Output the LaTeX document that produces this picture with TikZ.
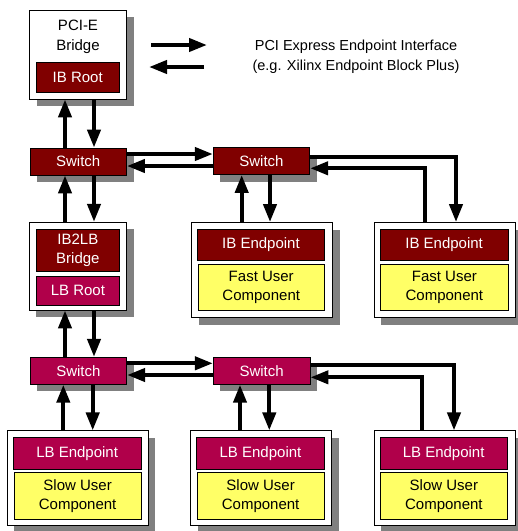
\documentclass[tikz,border=0pt]{standalone}
\usepackage{fontspec}
\setmainfont{Liberation Sans}
\usetikzlibrary{arrows.meta,shadows}
\definecolor{ibred}{HTML}{800000}
\definecolor{lbred}{HTML}{B0004A}
\definecolor{ucyellow}{HTML}{FFFF66}
\definecolor{shadowgray}{HTML}{808080}
\begin{document}
\begin{tikzpicture}[x=1pt,y=-1pt,
  shadowed/.style={general shadow={fill=shadowgray, shadow xshift=7pt, shadow yshift=-7pt}},
  rect/.style={draw=black, line width=0.8pt, inner sep=0pt, align=center,
    font=\fontsize{15}{19}\selectfont},
  ibbox/.style={rect, fill=ibred, text=white},
  lbbox/.style={rect, fill=lbred, text=white},
  userbox/.style={rect, fill=ucyellow, text=black},
  outerbox/.style={rect, fill=white, shadowed},
  swib/.style={ibbox, shadowed, minimum width=96.5pt, minimum height=27pt},
  swlb/.style={lbbox, shadowed, minimum width=96.7pt, minimum height=27pt},
  epouter/.style={outerbox, minimum width=141pt, minimum height=95pt},
  arr/.style={line width=4pt, line join=miter, -{Triangle[length=18pt,width=13pt]}},
  legendtext/.style={align=center, font=\fontsize{14.5}{20}\selectfont}
]
\useasboundingbox (0,0) rectangle (518,531);

% helper coordinates
\coordinate (xa) at (65,0);
\coordinate (xb) at (94,0);
\coordinate (xc) at (241.7,0);
\coordinate (xd) at (270,0);
\coordinate (xe) at (63.3,0);
\coordinate (xf) at (92.7,0);
\coordinate (xg) at (240,0);
\coordinate (xh) at (269.3,0);
\coordinate (xr1) at (456,0);
\coordinate (xl1) at (425,0);
\coordinate (xr2) at (454,0);
\coordinate (xl2) at (421.7,0);
\coordinate (ya) at (0,154);
\coordinate (yb) at (0,166);
\coordinate (yc) at (0,157);
\coordinate (yd) at (0,168.3);
\coordinate (ye) at (0,363.3);
\coordinate (yf) at (0,375);
\coordinate (yg) at (0,365);
\coordinate (yh) at (0,377.3);

% PCI-E bridge
\node[outerbox, minimum width=97pt, minimum height=89pt] (pcie) at (78,54.5) {};
\node[align=center, font=\fontsize{15}{20}\selectfont] (pcietext) at (78,37) {PCI-E\\Bridge};
\node[ibbox, minimum width=83.5pt, minimum height=30pt] (ibroot) at (77.75,77) {IB Root};

% legend
\coordinate (lg1a) at (151,45);
\coordinate (lg1b) at (207,45);
\coordinate (lg2a) at (204,67);
\coordinate (lg2b) at (149,67);
\draw[arr] (lg1a) -- (lg1b);
\draw[arr] (lg2a) -- (lg2b);
\node[legendtext] (legend) at (356,56.5) {PCI Express Endpoint Interface\\(e.g. Xilinx Endpoint Block Plus)};

% IB switches
\node[swib] (sw1) at (78.25,161.5) {Switch};
\node[swib] (sw2) at (261.5,161) {Switch};

% IB endpoints
\node[epouter] (ibep1) at (262,270) {};
\node[ibbox, minimum width=127pt, minimum height=31pt] (ib1) at (261,244.5) {IB Endpoint};
\node[userbox, minimum width=126.5pt, minimum height=46pt] (fast1) at (261.25,287) {Fast User\\Component};
\node[epouter] (ibep2) at (444.65,270) {};
\node[ibbox, minimum width=128.3pt, minimum height=31pt] (ib2) at (444.15,244.5) {IB Endpoint};
\node[userbox, minimum width=127.8pt, minimum height=46pt] (fast2) at (444.4,287) {Fast User\\Component};

% IB2LB bridge
\node[outerbox, minimum width=97.4pt, minimum height=87.7pt] (ib2lb) at (78,266.15) {};
\node[ibbox, minimum width=82.3pt, minimum height=42.4pt] (bridge) at (77.85,250.5) {IB2LB\\Bridge};
\node[lbbox, minimum width=82.3pt, minimum height=28.3pt] (lbroot) at (77.85,290.85) {LB Root};

% LB switches
\node[swlb] (sw3) at (78.35,370.8) {Switch};
\node[swlb] (sw4) at (261.65,370.8) {Switch};

% LB endpoints
\node[epouter] (lbep1) at (77.8,478.35) {};
\node[lbbox, minimum width=127.7pt, minimum height=31.6pt] (lb1) at (77.15,453.5) {LB Endpoint};
\node[userbox, minimum width=126.7pt, minimum height=47pt] (slow1) at (77.65,495.8) {Slow User\\Component};
\node[epouter] (lbep2) at (261.2,478.35) {};
\node[lbbox, minimum width=127.7pt, minimum height=31.6pt] (lb2) at (260.5,453.5) {LB Endpoint};
\node[userbox, minimum width=126.7pt, minimum height=47pt] (slow2) at (260.65,495.8) {Slow User\\Component};
\node[epouter] (lbep3) at (444.5,478.35) {};
\node[lbbox, minimum width=127.3pt, minimum height=31.6pt] (lb3) at (443.65,453.5) {LB Endpoint};
\node[userbox, minimum width=126.8pt, minimum height=47pt] (slow3) at (443.9,495.8) {Slow User\\Component};

% connectors: PCI-E <-> switch 1
\draw[arr] (sw1.north -| xa) -- (pcie.south -| xa);
\draw[arr] (pcie.south -| xb) -- (sw1.north -| xb);
% switch 1 <-> IB2LB
\draw[arr] (ib2lb.north -| xa) -- (sw1.south -| xa);
\draw[arr] (sw1.south -| xb) -- (ib2lb.north -| xb);
% switch 1 <-> switch 2
\draw[arr] (sw1.east |- ya) -- (sw2.west |- ya);
\draw[arr] (sw2.west |- yb) -- (sw1.east |- yb);
% switch 2 <-> IB endpoint 1
\draw[arr] (ibep1.north -| xc) -- (sw2.south -| xc);
\draw[arr] (sw2.south -| xd) -- (ibep1.north -| xd);
% switch 2 <-> IB endpoint 2
\draw[arr] (sw2.east |- yc) -| (ibep2.north -| xr1);
\draw[arr] (ibep2.north -| xl1) |- (sw2.east |- yd);
% IB2LB <-> switch 3
\draw[arr] (sw3.north -| xa) -- (ib2lb.south -| xa);
\draw[arr] (ib2lb.south -| xb) -- (sw3.north -| xb);
% switch 3 <-> switch 4
\draw[arr] (sw3.east |- ye) -- (sw4.west |- ye);
\draw[arr] (sw4.west |- yf) -- (sw3.east |- yf);
% switch 3 <-> LB endpoint 1
\draw[arr] (lbep1.north -| xe) -- (sw3.south -| xe);
\draw[arr] (sw3.south -| xf) -- (lbep1.north -| xf);
% switch 4 <-> LB endpoint 2
\draw[arr] (lbep2.north -| xg) -- (sw4.south -| xg);
\draw[arr] (sw4.south -| xh) -- (lbep2.north -| xh);
% switch 4 <-> LB endpoint 3
\draw[arr] (sw4.east |- yg) -| (lbep3.north -| xr2);
\draw[arr] (lbep3.north -| xl2) |- (sw4.east |- yh);
\end{tikzpicture}
\end{document}
